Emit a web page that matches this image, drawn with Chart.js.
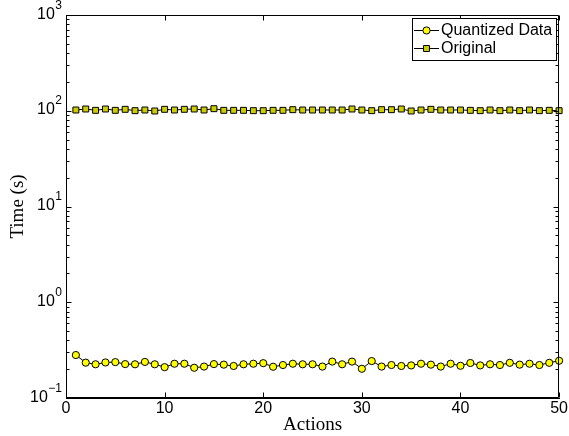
<!DOCTYPE html>
<html>
<head>
<meta charset="utf-8">
<script src="https://cdn.jsdelivr.net/npm/chart.js@4/dist/chart.umd.min.js"></script>
<style>
  body { margin: 0; background: #fff; }
</style>
</head>
<body>
<canvas id="myChart" width="569" height="436"></canvas>
<script>
const actions = [1, 2, 3, 4, 5, 6, 7, 8, 9, 10, 11, 12, 13, 14, 15, 16, 17, 18, 19, 20, 21, 22, 23, 24, 25,
  26, 27, 28, 29, 30, 31, 32, 33, 34, 35, 36, 37, 38, 39, 40, 41, 42, 43, 44, 45, 46, 47, 48, 49, 50];

const quantized = [0.281, 0.234, 0.225, 0.235, 0.237, 0.226, 0.225, 0.238, 0.225, 0.210,
  0.228, 0.228, 0.207, 0.213, 0.226, 0.223, 0.216, 0.225, 0.228, 0.231,
  0.212, 0.221, 0.228, 0.225, 0.225, 0.213, 0.240, 0.225, 0.240, 0.202,
  0.243, 0.213, 0.221, 0.216, 0.219, 0.228, 0.223, 0.213, 0.228, 0.217,
  0.232, 0.219, 0.225, 0.221, 0.233, 0.223, 0.228, 0.221, 0.233, 0.245];

const original = [101.8, 104.3, 101.0, 104.3, 101.0, 103.5, 100.2, 101.8, 99.4, 103.5,
  101.8, 103.5, 104.3, 101.8, 105.1, 101.0, 101.0, 101.0, 100.2, 100.2,
  101.0, 101.0, 102.6, 101.8, 101.8, 101.8, 101.8, 101.8, 104.3, 101.8,
  100.2, 102.6, 102.6, 104.3, 99.4, 101.8, 103.5, 101.8, 101.8, 101.8,
  101.0, 100.2, 101.8, 100.2, 101.8, 100.2, 101.8, 100.2, 101.0, 100.2];

const seriesNames = ['Quantized Data', 'Original'];
const xTicks = [0, 10, 20, 30, 40, 50];
const yTickValues = [0.1, 1, 10, 100, 1000];
const yTickExponents = ['\u22121', '0', '1', '2', '3'];

Chart.defaults.font.family = '"Liberation Sans", Arial, sans-serif';
Chart.defaults.color = '#000';

// matlab style box with inward ticks, 10^n labels and legend inside the axes
const matlabAxes = {
  id: 'matlabAxes',
  afterDraw(chart) {
    const ctx = chart.ctx;
    const a = chart.chartArea;
    const xs = chart.scales.x, ys = chart.scales.y;
    const L = Math.round(a.left) + 0.5, R = Math.round(a.right) - 0.5;
    const T = Math.round(a.top) + 0.5, B = Math.round(a.bottom) - 0.5;
    ctx.save();
    ctx.strokeStyle = '#000';
    ctx.lineWidth = 1;
    ctx.beginPath();
    ctx.moveTo(L, B); ctx.lineTo(L, T); ctx.lineTo(R, T); ctx.lineTo(R, B); ctx.lineTo(L, B);
    // x ticks bottom and top
    xTicks.forEach(v => {
      const px = Math.round(xs.getPixelForValue(v)) + 0.5;
      ctx.moveTo(px, B); ctx.lineTo(px, B - 5);
      ctx.moveTo(px, T); ctx.lineTo(px, T + 5);
    });
    // y ticks, major and minor
    for (let e = -1; e <= 3; e++) {
      for (let m = 1; m <= 9; m++) {
        const v = m * Math.pow(10, e);
        if (v > 1000.0001) break;
        const py = Math.round(ys.getPixelForValue(v)) + 0.5;
        const len = m === 1 ? 5 : 3;
        ctx.moveTo(L, py); ctx.lineTo(L + len, py);
        ctx.moveTo(R, py); ctx.lineTo(R - len, py);
      }
    }
    ctx.stroke();

    // y tick labels as 10 with raised exponent
    ctx.fillStyle = '#000';
    ctx.textBaseline = 'alphabetic';
    ctx.textAlign = 'right';
    yTickValues.forEach((v, i) => {
      const py = ys.getPixelForValue(v);
      ctx.font = '12px "Liberation Sans", Arial, sans-serif';
      const ew = ctx.measureText(yTickExponents[i]).width;
      ctx.fillText(yTickExponents[i], 62, py - 6.5);
      ctx.font = '16px "Liberation Sans", Arial, sans-serif';
      ctx.fillText('10', 62 - ew - 0.5, py + 3.5);
    });

    // legend
    const bx = 412.5, by = 18.5, bw = 144, bh = 42;
    ctx.fillStyle = '#fff';
    ctx.fillRect(bx, by, bw, bh);
    ctx.strokeRect(bx, by, bw, bh);
    ctx.font = '16px "Liberation Sans", Arial, sans-serif';
    ctx.textBaseline = 'middle';
    ctx.textAlign = 'left';
    const rows = [30, 48];
    chart.data.datasets.forEach((ds, i) => {
      const y = rows[i] + 0.5;
      ctx.beginPath();
      ctx.moveTo(414, y); ctx.lineTo(439, y);
      ctx.strokeStyle = '#000';
      ctx.stroke();
      ctx.fillStyle = ds.pointBackgroundColor;
      ctx.strokeStyle = ds.pointBorderColor;
      ctx.beginPath();
      if (ds.pointStyle === 'circle') {
        ctx.arc(426.5, y, ds.pointRadius, 0, Math.PI * 2);
      } else {
        const s = ds.pointRadius * Math.SQRT1_2;
        ctx.rect(426.5 - s, y - s, 2 * s, 2 * s);
      }
      ctx.fill();
      ctx.stroke();
      ctx.fillStyle = '#000';
      ctx.fillText(ds.label, 441, rows[i] + 1);
    });
    ctx.restore();
  }
};

const data = {
  datasets: [{
    label: seriesNames[0],
    data: actions.map((a, i) => ({ x: a, y: quantized[i] })),
    borderColor: '#000',
    borderWidth: 1,
    pointStyle: 'circle',
    pointRadius: 3.6,
    pointBackgroundColor: '#ffff00',
    pointBorderColor: '#000',
    pointBorderWidth: 1,
    clip: false
  }, {
    label: seriesNames[1],
    data: actions.map((a, i) => ({ x: a, y: original[i] })),
    borderColor: '#000',
    borderWidth: 1,
    pointStyle: 'rect',
    pointRadius: 4.2,
    pointBackgroundColor: '#cccc00',
    pointBorderColor: '#000',
    pointBorderWidth: 1,
    clip: false
  }]
};

const config = {
  type: 'line',
  data: data,
  options: {
    responsive: false,
    animation: false,
    layout: { padding: { left: 0, right: 8, top: 15, bottom: 0 } },
    scales: {
      x: {
        type: 'linear',
        min: 0,
        max: 50,
        afterBuildTicks: (s) => { s.ticks = xTicks.map(v => ({ value: v })); },
        afterFit: (s) => { s.height = 38; },
        ticks: { padding: 1, font: { size: 16 }, color: '#000' },
        grid: { display: false, drawTicks: false },
        border: { display: true, color: '#000', width: 1 },
        title: {
          display: true,
          text: 'Actions',
          color: '#000',
          font: { family: '"Liberation Serif", "Times New Roman", serif', size: 19, lineHeight: 1 },
          padding: { top: 0, bottom: 1 }
        }
      },
      y: {
        type: 'logarithmic',
        min: 0.1,
        max: 1000,
        afterBuildTicks: (s) => { s.ticks = yTickValues.map(v => ({ value: v })); },
        afterFit: (s) => { s.width = 66; },
        ticks: { display: false },
        grid: { display: false, drawTicks: false },
        border: { display: true, color: '#000', width: 1 },
        title: {
          display: true,
          text: 'Time (s)',
          color: '#000',
          font: { family: '"Liberation Serif", "Times New Roman", serif', size: 19, lineHeight: 1 },
          padding: { top: 9, bottom: 0 }
        }
      }
    },
    plugins: {
      legend: { display: false },
      tooltip: { enabled: false }
    }
  },
  plugins: [matlabAxes]
};

const myChart = new Chart(document.getElementById('myChart'), config);
</script>
</body>
</html>
